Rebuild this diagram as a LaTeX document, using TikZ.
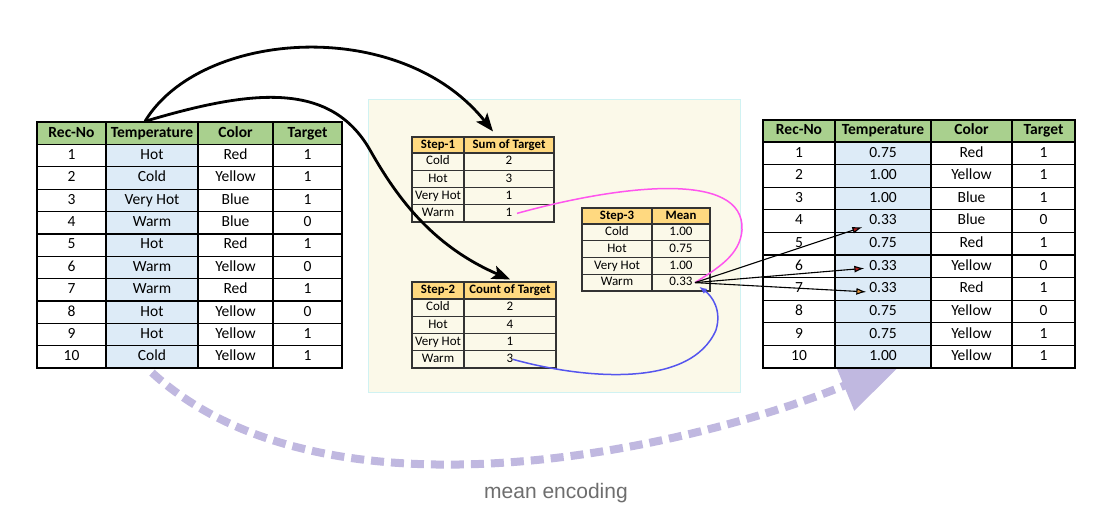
\documentclass[tikz,border=0pt]{standalone}
\usepackage{fontspec}
\setmainfont{Carlito}
\newfontfamily\capfont{Liberation Sans}
\usetikzlibrary{arrows.meta,backgrounds}
\definecolor{hdrgreen}{RGB}{169,208,142}
\definecolor{tempblue}{RGB}{221,235,247}
\definecolor{stephdr}{RGB}{255,217,128}
\definecolor{panelbg}{RGB}{251,249,233}
\definecolor{panelline}{RGB}{208,242,242}
\definecolor{dashlav}{RGB}{192,184,224}
\definecolor{pinkline}{RGB}{255,85,238}
\definecolor{blueline}{RGB}{85,85,238}
\definecolor{tipred}{RGB}{178,30,30}
\definecolor{tiporange}{RGB}{230,150,60}
\definecolor{capgray}{RGB}{110,110,110}
\begin{document}
\begin{tikzpicture}[x=1pt,y=-1pt,
  bigcell/.style={draw=black,line width=1.3pt,inner sep=0pt,text height=10.8pt,text depth=3pt,font=\fontsize{15.5}{18}\selectfont},
  bighdr/.style={bigcell,fill=hdrgreen,font=\bfseries\fontsize{15.5}{18}\selectfont},
  smallcell/.style={draw=black!80,line width=1.1pt,inner sep=0pt,text height=9pt,text depth=2.5pt,font=\fontsize{13}{15}\selectfont},
  smallhdr/.style={smallcell,fill=stephdr,font=\bfseries\fontsize{12.8}{15}\selectfont},
  blkarrow/.style={line width=2.8pt,-{Stealth[length=18pt,width=14pt,inset=4pt]}},
  thinarrow/.style={line width=1.1pt,black},
  dasharrow/.style={dashlav,line width=8pt,dash pattern=on 13pt off 7pt,-{Triangle[length=66pt,width=52pt]}}
]
\useasboundingbox (0,0) rectangle (1108,513);

% central panel
\node[draw=panelline,fill=panelbg,line width=1pt,minimum width=372pt,minimum height=292pt,inner sep=0pt] (panel) at (554,246) {};

% ---------- left table ----------
\foreach \txt/\xc/\cw [count=\i] in {Rec-No/71.5/69, Temperature/152/92, Color/235.5/75, Target/307.5/69}
  \node[bighdr,minimum width=\cw pt,minimum height=22.5pt] (L-h-\i) at (\xc,133.25) {\txt};
\foreach \tv/\cv/\gv [count=\r] in {Hot/Red/1, Cold/Yellow/1, Very Hot/Blue/1, Warm/Blue/0, Hot/Red/1, Warm/Yellow/0, Warm/Red/1, Hot/Yellow/0, Hot/Yellow/1, Cold/Yellow/1}{
  \pgfmathsetmacro\yy{144.5+(\r-0.5)*22.35}
  \node[bigcell,fill=white,minimum width=69pt,minimum height=22.35pt] (L-\r-1) at (71.5,\yy) {\r};
  \node[bigcell,fill=tempblue,minimum width=92pt,minimum height=22.35pt] (L-\r-2) at (152,\yy) {\tv};
  \node[bigcell,fill=white,minimum width=75pt,minimum height=22.35pt] (L-\r-3) at (235.5,\yy) {\cv};
  \node[bigcell,fill=white,minimum width=69pt,minimum height=22.35pt] (L-\r-4) at (307.5,\yy) {\gv};
}

% ---------- right table ----------
\foreach \txt/\xc/\cw [count=\i] in {Rec-No/799/72, Temperature/883/96, Color/971.5/81, Target/1043.5/63}
  \node[bighdr,minimum width=\cw pt,minimum height=22pt] (R-h-\i) at (\xc,131) {\txt};
\foreach \tv/\cv/\gv [count=\r] in {0.75/Red/1, 1.00/Yellow/1, 1.00/Blue/1, 0.33/Blue/0, 0.75/Red/1, 0.33/Yellow/0, 0.33/Red/1, 0.75/Yellow/0, 0.75/Yellow/1, 1.00/Yellow/1}{
  \pgfmathsetmacro\yy{142+(\r-0.5)*22.6}
  \node[bigcell,fill=white,minimum width=72pt,minimum height=22.6pt] (R-\r-1) at (799,\yy) {\r};
  \node[bigcell,fill=tempblue,minimum width=96pt,minimum height=22.6pt] (R-\r-2) at (883,\yy) {\tv};
  \node[bigcell,fill=white,minimum width=81pt,minimum height=22.6pt] (R-\r-3) at (971.5,\yy) {\cv};
  \node[bigcell,fill=white,minimum width=63pt,minimum height=22.6pt] (R-\r-4) at (1043.5,\yy) {\gv};
}

% ---------- Step-1 ----------
\node[smallhdr,minimum width=52pt,minimum height=16pt] (S1-h-1) at (438,145) {Step-1};
\node[smallhdr,minimum width=90pt,minimum height=16pt] (S1-h-2) at (509,145) {Sum of Target};
\foreach \a/\b [count=\r] in {Cold/2, Hot/3, Very Hot/1, Warm/1}{
  \pgfmathsetmacro\yy{153+(\r-0.5)*17.25}
  \node[smallcell,minimum width=52pt,minimum height=17.25pt] (S1-\r-1) at (438,\yy) {\a};
  \node[smallcell,minimum width=90pt,minimum height=17.25pt] (S1-\r-2) at (509,\yy) {\b};
}

% ---------- Step-2 ----------
\node[smallhdr,minimum width=52pt,minimum height=17pt] (S2-h-1) at (438,290.5) {Step-2};
\node[smallhdr,minimum width=92pt,minimum height=17pt] (S2-h-2) at (510,290.5) {Count of Target};
\foreach \a/\b [count=\r] in {Cold/2, Hot/4, Very Hot/1, Warm/3}{
  \pgfmathsetmacro\yy{299+(\r-0.5)*17.25}
  \node[smallcell,minimum width=52pt,minimum height=17.25pt] (S2-\r-1) at (438,\yy) {\a};
  \node[smallcell,minimum width=92pt,minimum height=17.25pt] (S2-\r-2) at (510,\yy) {\b};
}

% ---------- Step-3 ----------
\node[smallhdr,minimum width=70pt,minimum height=16pt] (S3-h-1) at (617,216) {Step-3};
\node[smallhdr,minimum width=58pt,minimum height=16pt] (S3-h-2) at (681,216) {Mean};
\foreach \a/\b [count=\r] in {Cold/1.00, Hot/0.75, Very Hot/1.00, Warm/0.33}{
  \pgfmathsetmacro\yy{224+(\r-0.5)*16.75}
  \node[smallcell,minimum width=70pt,minimum height=16.75pt] (S3-\r-1) at (617,\yy) {\a};
  \node[smallcell,minimum width=58pt,minimum height=16.75pt] (S3-\r-2) at (681,\yy) {\b};
}
\coordinate (hub) at ([xshift=14pt]S3-4-2.center);

% ---------- black curved arrows ----------
\draw[blkarrow] ([xshift=-7pt]L-h-2.north) .. controls (200,30) and (400,15) .. ([xshift=-16pt,yshift=5pt]S1-h-2.north);
\draw[blkarrow] ([xshift=-7pt]L-h-2.north) .. controls (250,90) and (330,80) .. (370,150)
   .. controls (395,194) and (430,245) .. ([yshift=2pt]S2-h-2.north);

% ---------- pink and blue ----------
\draw[pinkline,line width=1.5pt] ([xshift=8pt]S1-4-2.center) .. controls (620,185) and (745,170) .. (742,230)
   .. controls (740,255) and (718,268) .. (hub);
\draw[blueline,line width=1.5pt,-{Latex[length=8pt,width=6pt]}] ([xshift=3pt]S2-4-2.center) .. controls (580,378) and (690,390) .. (716,330)
   .. controls (722,310) and (712,296) .. ([xshift=4pt,yshift=-4pt]hub);

% ---------- thin arrows to right table ----------
\draw[thinarrow,-{Latex[length=10pt,width=7pt,fill=tipred]}] (hub) -- ([xshift=28pt,yshift=-6pt]R-4-2.west);
\draw[thinarrow,-{Latex[length=10pt,width=7pt,fill=tipred]}] (hub) -- ([xshift=30pt,yshift=-2pt]R-6-2.west);
\draw[thinarrow,-{Latex[length=10pt,width=7pt,fill=tiporange]}] (hub) -- ([xshift=32pt,yshift=-3pt]R-7-2.west);

% ---------- dashed arrow (behind tables) ----------
\begin{pgfonlayer}{background}
  \fill[white] (0,0) rectangle (1108,513);
  \draw[dasharrow] ([yshift=-4pt]L-10-2.south) .. controls (330,535) and (700,445) .. ([xshift=22pt,yshift=8pt]R-10-2.south);
\end{pgfonlayer}

% caption
\node[font=\capfont\fontsize{21}{25}\selectfont,text=capgray] (caption) at (556,493) {mean encoding};
\end{tikzpicture}
\end{document}
